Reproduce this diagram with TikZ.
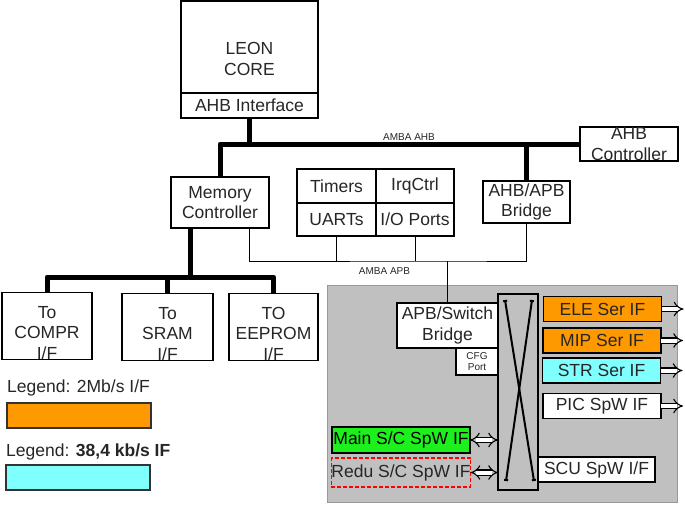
\documentclass[tikz,border=0pt]{standalone}
\usepackage{fontspec}
\setmainfont{Liberation Sans}
\usetikzlibrary{arrows.meta, positioning}
\definecolor{ifOrange}{RGB}{255,153,0}
\definecolor{ifCyan}{RGB}{128,255,255}
\definecolor{ifGreen}{RGB}{30,240,30}
\definecolor{bgGray}{RGB}{192,192,192}

\begin{document}
\begin{tikzpicture}[x=1pt, y=-1pt,
    box/.style={rectangle, draw=black, line width=1.2pt, fill=white, inner sep=0pt, outer sep=0pt,
                align=center, text=black!85, font=\fontsize{17.5}{20.5}\selectfont},
    cell/.style={box, minimum width=79pt, minimum height=34pt},
    memif/.style={box, minimum width=90pt, minimum height=65pt},
    ifbox/.style={box, minimum width=118pt, minimum height=25pt},
    legendbar/.style={rectangle, draw=black!80, line width=1.2pt, minimum width=144pt, minimum height=25pt, inner sep=0pt},
    legendtext/.style={anchor=west, inner sep=0pt, text=black!85, font=\fontsize{17.5}{20}\selectfont},
    busname/.style={inner sep=0pt, text=black!85, font=\fontsize{10}{12}\selectfont},
    bus/.style={line width=5pt, line join=round},
    apb/.style={line width=1pt},
    xline/.style={line width=2pt, {Bar[width=4pt]}-{Bar[width=4pt]}},
    dbl/.style={double, double distance=4pt, line width=1.1pt, -{Implies}},
    dbltwo/.style={dbl, {Implies}-{Implies}}
]
\useasboundingbox (0,0) rectangle (685,507);
\fill [bgGray, draw=gray!80] (327,285) rectangle (677,502);

\node (leon) [box, minimum width=137pt, minimum height=92pt] at (249.5,47) {\rule{0pt}{36pt}LEON\\CORE};
\node (ahbif) [box, minimum width=137pt, minimum height=25pt, below=0pt of leon] {AHB Interface};
\node (ahbctrl) [box, minimum width=98pt, minimum height=34pt] at (629,144) {AHB\\Controller};
\node (memctrl) [box, minimum width=98pt, minimum height=51pt] at (220,202.5) {Memory\\Controller};
\node (timers) [cell] at (336.5,186) {Timers};
\node (irq) [cell, minimum width=78pt, right=0pt of timers] {IrqCtrl};
\node (uarts) [cell, minimum height=33pt, below=0pt of timers] {UARTs};
\node (io) [cell, minimum width=78pt, minimum height=33pt, right=0pt of uarts] {I/O Ports};
\node (bridge) [box, minimum width=87pt, minimum height=42pt] at (526.5,202) {AHB/APB\\Bridge};

\node (compr) [memif] at (47,326) {\rule{0pt}{26pt}To\\COMPR\\I/F};
\node (sram) [memif, minimum width=91pt] at (167.5,327) {\rule{0pt}{26pt}To\\SRAM\\I/F};
\node (eeprom) [memif, minimum width=89pt] at (273.5,327) {\rule{0pt}{26pt}TO\\EEPROM\\I/F};

\node (leg1txt) [legendtext] at (7,388) {Legend: 2Mb/s I/F};
\node (leg1) [legendbar, fill=ifOrange] at (79,415.5) {};
\node (leg2txt) [legendtext] at (6,452) {Legend: \textbf{38,4 kb/s IF}};
\node (leg2) [legendbar, fill=ifCyan] at (78,477.5) {};

\node (apbsw) [box, minimum width=101pt, minimum height=45pt] at (447.5,325.5) {APB/Switch\\Bridge};
\node (cfg) [box, minimum width=42pt, minimum height=27pt, anchor=north east,
             font=\fontsize{10}{11}\selectfont] at (apbsw.south east) {CFG\\Port};
\node (switch) [box, fill=bgGray, minimum width=40pt, minimum height=196pt] at (518,392) {};
\node (ele) [ifbox, fill=ifOrange] at (602.5,309) {ELE Ser IF};
\node (mip) [ifbox, fill=ifOrange] at (602,340.5) {MIP Ser IF};
\node (str) [ifbox, fill=ifCyan] at (601.5,370.5) {STR Ser IF};
\node (pic) [ifbox] at (602,406) {PIC SpW IF};
\node (scu) [box, minimum width=117pt, minimum height=25pt] at (596.5,469.5) {SCU SpW I/F};
\node (main) [box, fill=ifGreen, text=black, minimum width=138pt, minimum height=26pt] at (401,440) {Main S/C SpW IF};
\node (redu) [box, draw=red, fill=none, line width=1.5pt, dash pattern=on 4pt off 2pt,
              minimum width=138pt, minimum height=29pt] at (401,472.5) {Redu S/C SpW IF};

\draw [bus] (memctrl.north) |- (ahbctrl.west);
\draw [bus] (ahbif.south) -- (ahbif.south |- ahbctrl.west);
\draw [bus] (bridge.north) -- (bridge.north |- ahbctrl.west);
\node (ahbname) [busname] at (409,137) {AMBA AHB};

\coordinate (mbus) at (190,277);
\draw [bus] (compr.north) |- (mbus) -| (eeprom.north);
\draw [bus] (sram.north) -- (sram.north |- mbus);
\draw [bus] (mbus) -- (mbus |- memctrl.south);

\coordinate (apbbus) at (448,261);
\draw [apb] ([xshift=-20pt]memctrl.south east) |- (apbbus) -| (bridge.south);
\draw [apb] (uarts.south) -- (uarts.south |- apbbus);
\draw [apb] (io.south) -- (io.south |- apbbus);
\draw [apb] (apbsw.north |- apbbus) -- (apbsw.north);
\node (apbname) [busname] at (384.5,271) {AMBA APB};

\draw [xline] ([shift={(7,6)}]switch.north west) -- ([shift={(36,187)}]switch.north west);
\draw [xline] ([shift={(34,6)}]switch.north west) -- ([shift={(8,187)}]switch.north west);

\foreach \n in {ele,mip,str,pic} {
    \coordinate (\n-out) at ([xshift=22pt]\n.east);
    \draw [dbl] (\n.east) -- (\n-out);
}
\draw [dbltwo] (main.east) -- (main.east -| switch.west);
\draw [dbltwo] (redu.east) -- (redu.east -| switch.west);
\end{tikzpicture}
\end{document}
